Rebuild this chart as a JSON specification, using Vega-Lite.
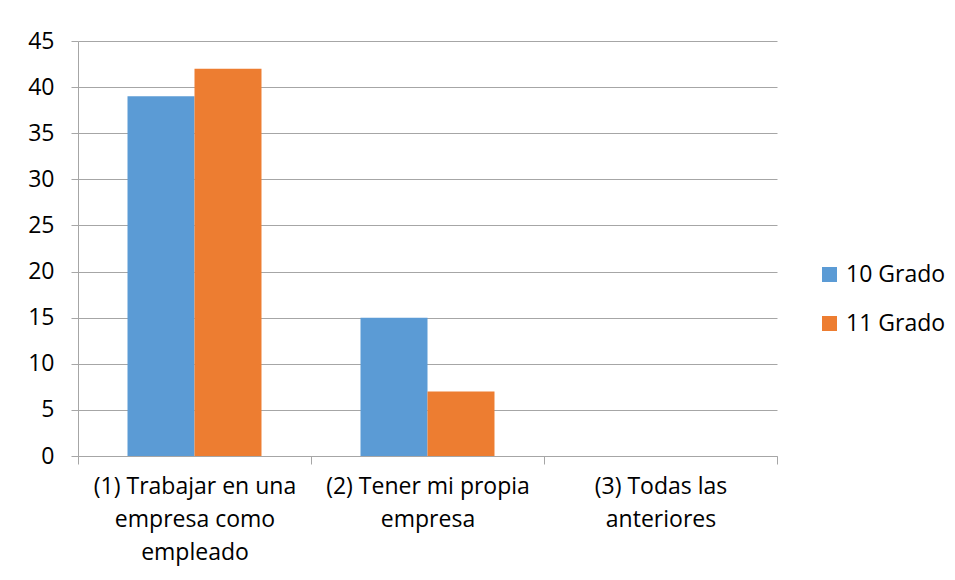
{
  "$schema": "https://vega.github.io/schema/vega-lite/v6.json",
  "width": 699,
  "height": 415,
  "autosize": "none",
  "padding": {"left": 78, "top": 41, "right": 178, "bottom": 124},
  "background": "white",
  "data": {
    "values": [
      {"categoria": "(1) Trabajar en una empresa como empleado", "grado": "10 Grado", "valor": 39},
      {"categoria": "(1) Trabajar en una empresa como empleado", "grado": "11 Grado", "valor": 42},
      {"categoria": "(2) Tener mi propia empresa", "grado": "10 Grado", "valor": 15},
      {"categoria": "(2) Tener mi propia empresa", "grado": "11 Grado", "valor": 7},
      {"categoria": "(3) Todas las anteriores", "grado": "10 Grado", "valor": 0},
      {"categoria": "(3) Todas las anteriores", "grado": "11 Grado", "valor": 0}
    ]
  },
  "mark": {"type": "bar"},
  "encoding": {
    "x": {
      "field": "categoria",
      "type": "nominal",
      "sort": null,
      "scale": {"paddingInner": 0, "paddingOuter": 0},
      "axis": {
        "title": null,
        "labelAngle": 0,
        "tickBand": "extent",
        "domainColor": "#a6a6a6",
        "tickColor": "#a6a6a6",
        "tickSize": 8,
        "labelPadding": 11,
        "labelFont": "Open Sans",
        "labelFontSize": 23,
        "labelColor": "#000000",
        "labelLineHeight": 33,
        "labelBaseline": "top",
        "labelLimit": 300,
        "labelExpr": "datum.value == '(1) Trabajar en una empresa como empleado' ? ['(1) Trabajar en una', 'empresa como', 'empleado'] : datum.value == '(2) Tener mi propia empresa' ? ['(2) Tener mi propia', 'empresa'] : datum.value == '(3) Todas las anteriores' ? ['(3) Todas las', 'anteriores'] : ''"
      }
    },
    "xOffset": {
      "field": "grado",
      "type": "nominal",
      "scale": {"paddingInner": 0, "paddingOuter": 0.739}
    },
    "y": {
      "field": "valor",
      "type": "quantitative",
      "scale": {"domain": [0, 45], "nice": false},
      "axis": {
        "title": null,
        "values": [0, 5, 10, 15, 20, 25, 30, 35, 40, 45],
        "grid": true,
        "gridColor": "#a6a6a6",
        "domainColor": "#a6a6a6",
        "tickColor": "#a6a6a6",
        "tickSize": 7,
        "labelPadding": 17,
        "labelFont": "Open Sans",
        "labelFontSize": 23,
        "labelColor": "#000000"
      }
    },
    "color": {
      "field": "grado",
      "type": "nominal",
      "scale": {"domain": ["10 Grado", "11 Grado"], "range": ["#5B9BD5", "#ED7D31"]},
      "legend": {
        "title": null,
        "orient": "none",
        "legendX": 740,
        "legendY": 222,
        "symbolType": "square",
        "symbolSize": 225,
        "symbolStrokeWidth": 0,
        "rowPadding": 25,
        "labelFont": "Open Sans",
        "labelFontSize": 23,
        "labelColor": "#000000",
        "labelOffset": 5
      }
    }
  },
  "config": {
    "view": {"stroke": null}
  }
}
